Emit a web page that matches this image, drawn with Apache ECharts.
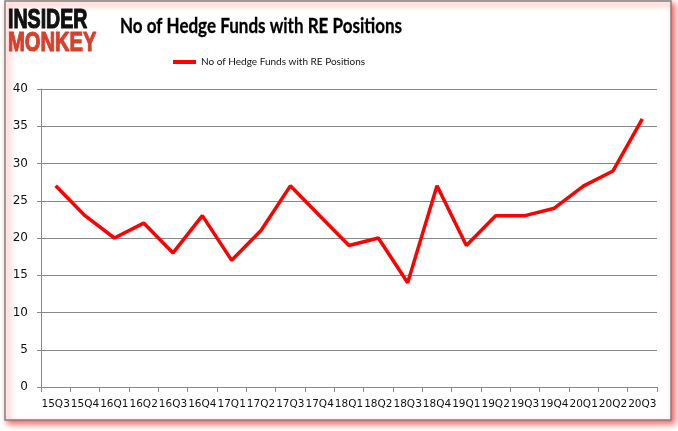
<!DOCTYPE html>
<html><head><meta charset="utf-8">
<script src="https://cdn.jsdelivr.net/npm/echarts@6/dist/echarts.min.js"></script>
<style>html,body{margin:0;padding:0;background:#fff}#c{width:678px;height:431px}</style>
</head><body><div id="c"></div>
<script>
var categories = ['15Q3','15Q4','16Q1','16Q2','16Q3','16Q4','17Q1','17Q2','17Q3','17Q4','18Q1','18Q2','18Q3','18Q4','19Q1','19Q2','19Q3','19Q4','20Q1','20Q2','20Q3'];
var values = [27,23,20,22,18,23,17,21,27,23,19,20,14,27,19,23,23,24,27,29,36];
var seriesName = 'No of Hedge Funds with RE Positions';
var titleText = 'No of Hedge Funds with RE Positions';

function fitScale(text, font, target) {
  var ctx = document.createElement('canvas').getContext('2d');
  ctx.font = font;
  return target / ctx.measureText(text).width;
}
var titleFont = 'bold 21px Lato';
var titleScale = fitScale(titleText, titleFont, 282);

var chart = echarts.init(document.getElementById('c'));
chart.setOption({
  animation: false,
  backgroundColor: '#fff',
  graphic: [
    {type:'rect', z:-10, shape:{x:5,y:1,width:666,height:419},
     style:{fill:'#fff', stroke:'#808080', lineWidth:1.5, shadowBlur:6, shadowColor:'rgba(255,0,0,0.65)', shadowOffsetX:3, shadowOffsetY:3}},
    {type:'text', z:5, x:8, y:6, scaleX:0.70,
     style:{text:'INSIDER', font:'bold 28px "Liberation Sans"', fill:'#111', stroke:'#111', lineWidth:1.2}},
    {type:'text', z:5, x:8, y:29, scaleX:0.72,
     style:{text:'MONKEY', font:'bold 28px "Liberation Sans"', fill:'#d8402e', stroke:'#d8402e', lineWidth:1.2}},
    {type:'text', z:5, x:261, y:26, scaleX:titleScale, originX:0,
     style:{text:titleText, font:titleFont, fill:'#000', align:'center', verticalAlign:'middle', stroke:'#000', lineWidth:0.3}}
  ],
  legend: {
    data: [seriesName], left: 168, top: 52, itemWidth: 23, itemHeight: 4, itemGap: 3,
    icon: 'rect',
    textStyle: {fontFamily: 'Lato', fontSize: 10, color: '#111'}
  },
  grid: {left: 41, right: 21, top: 89, bottom: 44, containLabel: false},
  xAxis: {
    type: 'category', data: categories, boundaryGap: true,
    axisLine: {lineStyle: {color: '#888'}},
    axisTick: {show: true, length: 5, lineStyle: {color: '#888'}},
    axisLabel: {interval: 0, fontFamily: '"DejaVu Sans"', fontSize: 10.5, color: '#111', margin: 12}
  },
  yAxis: {
    type: 'value', min: 0, max: 40, interval: 5,
    axisLine: {show: true, lineStyle: {color: '#888'}},
    axisTick: {show: true, length: 4, lineStyle: {color: '#888'}},
    splitLine: {lineStyle: {color: '#888', width: 1}},
    axisLabel: {fontFamily: '"DejaVu Sans"', fontSize: 12, color: '#111', margin: 13}
  },
  series: [{
    name: seriesName, type: 'line', data: values, showSymbol: false, symbol: 'none',
    lineStyle: {color: '#ff0000', width: 3.5}, itemStyle: {color: '#ff0000'}
  }]
});
</script></body></html>
